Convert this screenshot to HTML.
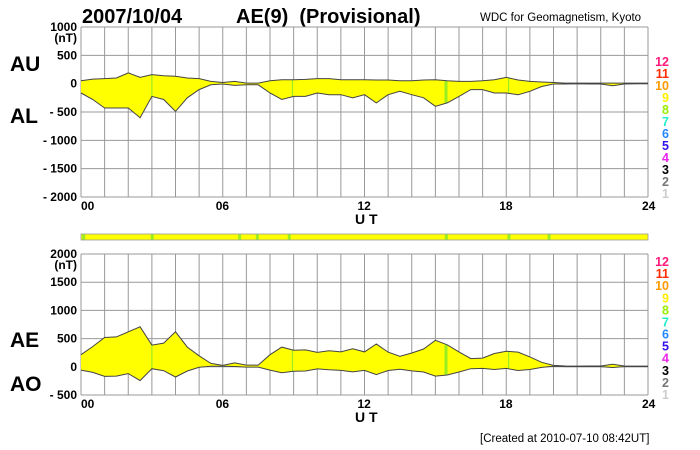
<!DOCTYPE html>
<html><head><meta charset="utf-8"><style>
body{margin:0;background:#fff;}
svg{display:block;font-family:"Liberation Sans",sans-serif;}
.b{font-weight:bold;}
</style></head><body>
<svg id="c" width="700" height="450" viewBox="0 0 700 450" xmlns="http://www.w3.org/2000/svg">
<text x="82" y="23" class="b" font-size="20">2007/10/04</text>
<text x="236" y="23" class="b" font-size="20" xml:space="preserve">AE(9)  (Provisional)</text>
<text x="480" y="21" font-size="11.5">WDC for Geomagnetism, Kyoto</text>
<text x="10" y="71" class="b" font-size="21">AU</text>
<text x="10" y="123" class="b" font-size="21">AL</text>
<text x="10" y="347" class="b" font-size="21">AE</text>
<text x="10" y="391" class="b" font-size="21">AO</text>
<rect x="81" y="234" width="567" height="6" fill="#ffff00" stroke="#999" stroke-width="0.8"/>
<g id="strip"></g>
<text x="480" y="442" font-size="11.5">[Created at 2010-07-10 08:42UT]</text>
<g id="g"></g>
</svg>
<script>
const hours=[0,0.5,1,1.5,2,2.5,3,3.5,4,4.5,5,5.5,6,6.5,7,7.5,8,8.5,9,9.5,10,10.5,11,11.5,12,12.5,13,13.5,14,14.5,15,15.5,16,16.5,17,17.5,18,18.5,19,19.5,20,20.5,21,21.5,22,22.5,23,23.5,24];
const auValues=[50,80,90,100,190,110,160,140,130,100,90,40,20,40,10,10,50,70,70,75,90,90,70,70,70,65,65,50,50,65,70,50,40,40,50,70,110,65,40,30,20,10,10,10,10,10,10,10,10];
const alValues=[-165,-280,-430,-430,-430,-600,-225,-280,-490,-250,-105,-20,-5,-30,-20,-20,-165,-280,-225,-225,-165,-195,-195,-250,-195,-340,-195,-135,-195,-250,-400,-340,-225,-105,-105,-165,-165,-195,-135,-50,-5,-5,-3,-5,-5,-35,-5,-3,-3];
const aeValues=[215,360,520,530,620,710,385,420,620,350,195,60,25,70,30,30,215,350,295,300,255,285,265,320,265,405,260,185,245,315,470,390,265,145,155,235,275,260,175,80,25,15,13,15,15,45,15,13,13];
const aoValues=[-58,-100,-170,-165,-120,-245,-33,-70,-180,-75,-8,10,8,5,-5,-5,-58,-105,-78,-75,-38,-53,-63,-90,-63,-138,-65,-43,-73,-93,-165,-145,-93,-33,-28,-48,-28,-65,-48,-10,8,3,4,3,3,-13,3,4,4];
const topTicks=["1000","500","0","- 500","- 1000","- 1500","- 2000"];
const topTickVals=[1000,500,0,-500,-1000,-1500,-2000];
const botTicks=["2000","1500","1000","500","0","- 500"];
const botTickVals=[2000,1500,1000,500,0,-500];
const xTicks=["00","06","12","18","24"];
const xTickVals=[0,6,12,18,24];
const legendNums=["12","11","10","9","8","7","6","5","4","3","2","1"];
const legendColors=["#ff1a7a","#ff2a00","#ff9900","#ffee00","#99ee00","#22eecc","#2288ff","#3311ee","#ee22ee","#000","#777","#ccc"];
const greenTimes=[3.0,8.95,15.45,18.1];
const stripGreen=[0.05,2.95,6.65,7.4,8.75,15.4,18.05,19.75];

const NS="http://www.w3.org/2000/svg";
const g=document.getElementById('g');
const X0=81,X1=648;
const xs=h=>X0+(X1-X0)*h/24;
function mk(tag,attrs,parent){const e=document.createElementNS(NS,tag);for(const k in attrs)e.setAttribute(k,attrs[k]);(parent||g).appendChild(e);return e;}
function panel(name,yTop,yBot,vMax,vMin,ticks,tickVals,upper,lower,legTop,legBot){
  const ys=v=>yTop+(vMax-v)*(yBot-yTop)/(vMax-vMin);
  for(let h=0;h<=24;h++){const l=mk('line',{x1:xs(h),x2:xs(h),y1:yTop,y2:yBot,stroke:'#999','stroke-width':1});
    
    }
  tickVals.forEach((v,i)=>{const l=mk('line',{x1:X0,x2:X1,y1:ys(v),y2:ys(v),stroke:'#999','stroke-width':1});
    
    
    const t=mk('text',{x:77,y:ys(v)+4,'text-anchor':'end','font-size':12,'font-weight':'bold'});t.textContent=ticks[i];
    
    });
  const u=mk('text',{x:77,y:ys(vMax)+15,'text-anchor':'end','font-size':12,'font-weight':'bold'});u.textContent='(nT)';
  
  
  let d='M'+hours.map((h,i)=>xs(h).toFixed(1)+','+ys(upper[i]).toFixed(1)).join('L');
  for(let i=hours.length-1;i>=0;i--)d+='L'+xs(hours[i]).toFixed(1)+','+ys(lower[i]).toFixed(1);
  const a=mk('path',{d:d+'Z',fill:'#ffff00',stroke:'none'});
  
  
  greenTimes.forEach(h=>{const idx=Math.round(h*2);const l=mk('line',{x1:xs(h),x2:xs(h),y1:ys(upper[idx]),y2:ys(lower[idx]),stroke:'#99ee22','stroke-width':h==15.45?3:1.2});
    
    });
  [upper,lower].forEach((arr,k)=>{const p=mk('path',{d:'M'+hours.map((h,i)=>xs(h).toFixed(1)+','+ys(arr[i]).toFixed(1)).join('L'),fill:'none',stroke:'#444','stroke-width':1});
    
    });
  xTickVals.forEach((h,i)=>{const t=mk('text',{x:xs(h)+(i==4?-6:(i==0?0:-7)),y:yBot+13,'font-size':12,'font-weight':'bold'});t.textContent=xTicks[i];
    
    });
  const ut=mk('text',{x:355,y:yBot+27,'font-size':14,'font-weight':'bold'});ut.textContent='U T';
  
  
  legendNums.forEach((n,i)=>{const t=mk('text',{x:669,y:legTop+i*(legBot-legTop)/11,'text-anchor':'end','font-size':12.5,'font-weight':'bold',fill:legendColors[i]});t.textContent=n;
    
    });
}
panel('au-al',27,197,1000,-2000,topTicks,topTickVals,auValues,alValues,66,198);
panel('ae-ao',254,395,2000,-500,botTicks,botTickVals,aeValues,aoValues,266,399);
const sg=document.getElementById('strip');
stripGreen.forEach(h=>{const r=mk('rect',{x:xs(h),y:234.5,width:3,height:5,fill:'#99ee22'},sg);
  
  });
</script>
</body></html>
